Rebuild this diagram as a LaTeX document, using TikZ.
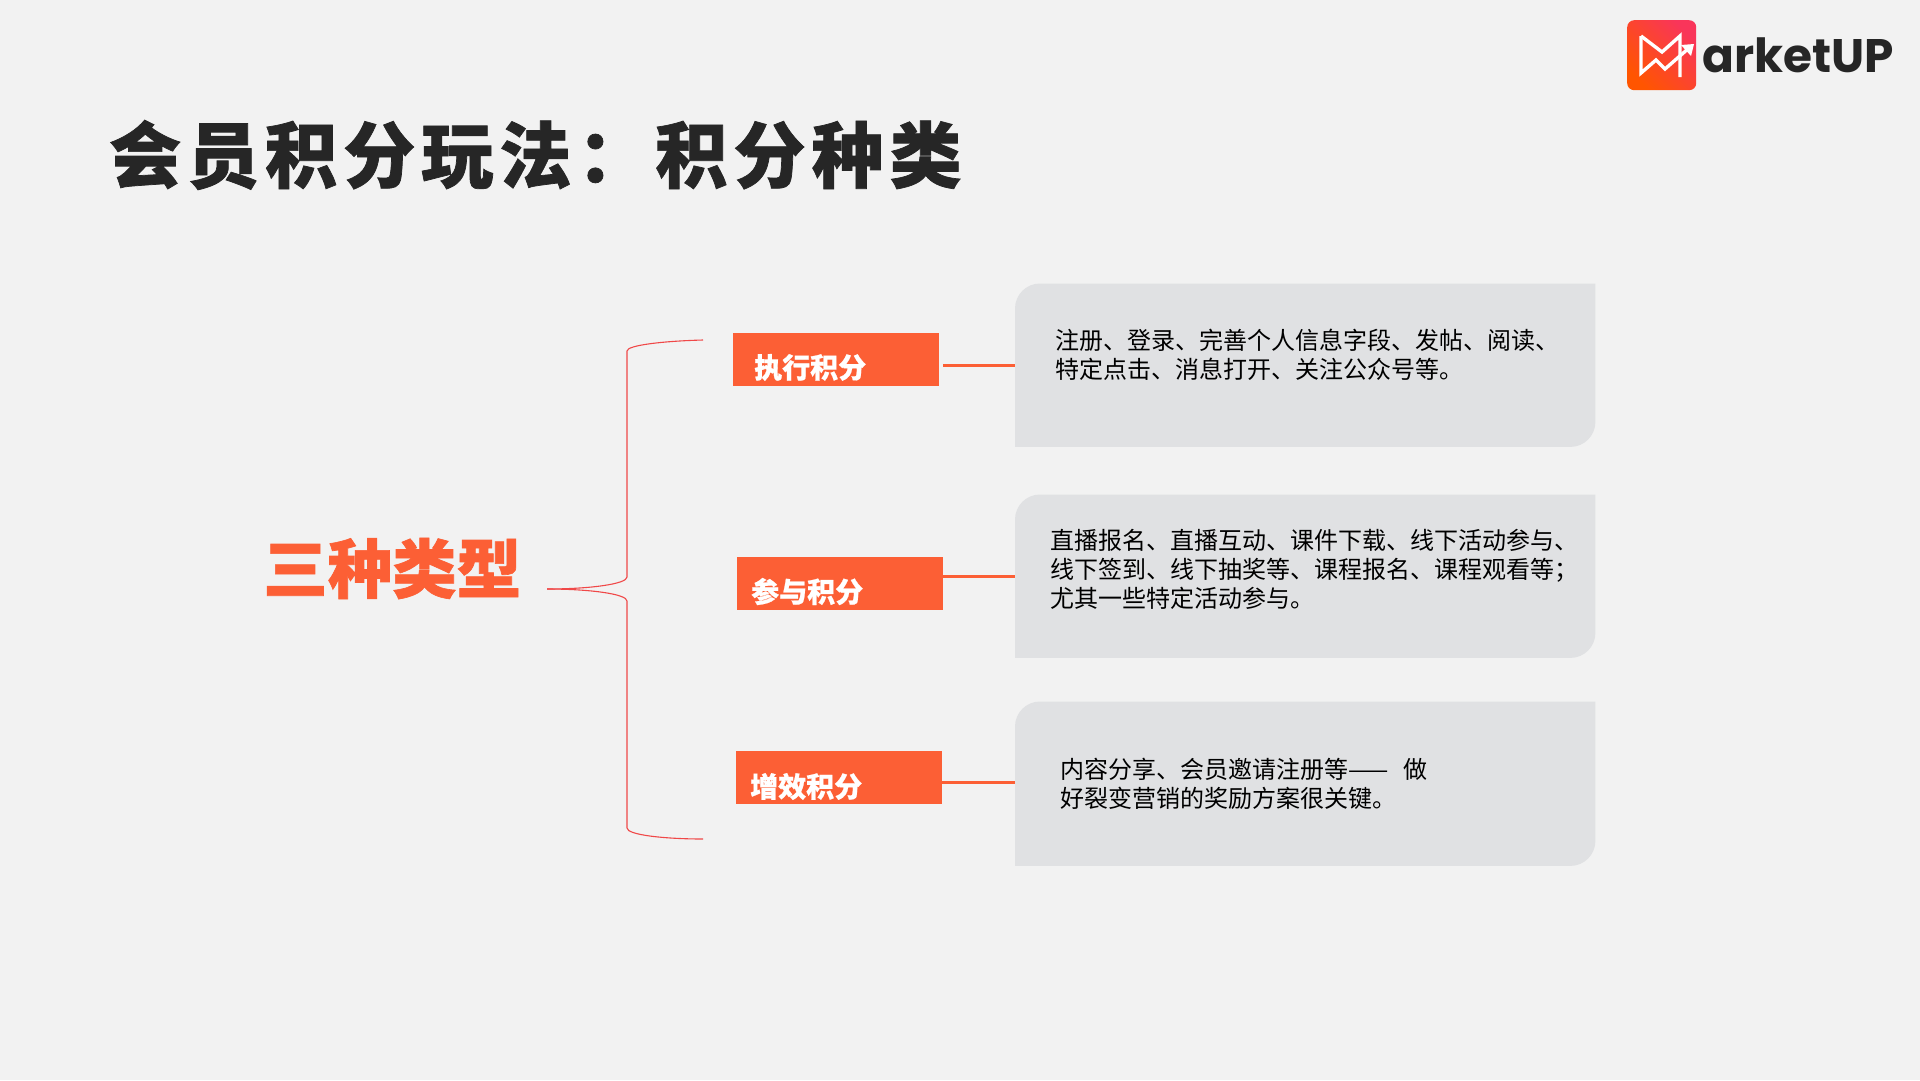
\documentclass[tikz,border=0pt]{standalone}
\usepackage{fontspec}
\setmainfont{Noto Sans CJK SC}
\newfontfamily\cjkfont{Noto Sans CJK SC}
\newfontfamily\latinbold{Poppins}[BoldFont={Poppins Bold}]
\definecolor{pagebg}{HTML}{F2F2F2}
\definecolor{accent}{HTML}{FC5F35}
\definecolor{panel}{HTML}{E0E1E3}
\definecolor{ink}{HTML}{262626}
\definecolor{bracecol}{HTML}{F04848}
\definecolor{logoA}{HTML}{F9355A}
\definecolor{logoB}{HTML}{FF5500}
\tikzset{
  x=1pt,y=-1pt,
  tag/.style={fill=accent,draw=none,inner sep=0pt,minimum width=206pt,minimum height=53pt,anchor=north west},
  taglabel/.style={text=white,inner sep=0pt,anchor=west,font=\fontsize{28}{28}\selectfont\bfseries\addfontfeature{FakeBold=0.6}},
  panelbox/.style={inner sep=0pt,minimum width=580pt,anchor=north west},
  panelfill/.style={fill=panel,draw=none},
  bodytext/.style={text=black,inner sep=0pt,anchor=west,align=left,font=\fontsize{24}{29}\selectfont},
  link/.style={draw=accent,line width=3pt},
  bracket/.style={draw=bracecol,line width=1.1pt},
}
\newcommand{\panelshape}[1]{%
  \fill[panelfill] (#1.north west) ++(0,25) arc[start angle=180,end angle=90,x radius=25,y radius=-25]
    -- (#1.north east) -- ++(0,0) -- ($(#1.south east)+(0,-25)$)
    arc[start angle=0,end angle=90,x radius=25,y radius=25]
    -- (#1.south west) -- cycle;}
\usetikzlibrary{calc}
\begin{document}
\begin{tikzpicture}
\useasboundingbox (0,0) rectangle (1920,1080);
\fill[pagebg] (0,0) rectangle (1920,1080);

% title
\node[anchor=west,inner sep=0pt,text=ink] (title) at (109,155)
  {\addfontfeature{LetterSpace=8.4,FakeBold=1}\fontsize{72}{72}\selectfont\bfseries 会员积分玩法：积分种类};

% logo
\node[rounded corners=7pt,minimum width=69pt,minimum height=70pt,inner sep=0pt,anchor=north west,
      shading=axis,left color=logoA,right color=logoB,shading angle=-45] (logo) at (1627,20) {};
\draw[white,line width=3.4pt,line join=miter] (1641,36) -- (1641,73) -- (1656,60) -- (1665,69) -- (1689,48);
\draw[white,line width=3.4pt] (1641,36) -- (1662,52) -- (1680,36) -- (1680,77);
\fill[white] (1694,44) -- (1681,45) -- (1691,56) -- cycle;
\node[anchor=west,inner sep=0pt,text=ink] (brand) at (1702,55)
  {\latinbold\bfseries\fontsize{47}{47}\selectfont arketUP};

% main label
\node[anchor=west,inner sep=0pt,text=accent] (main) at (263,568.5)
  {\addfontfeature{FakeBold=1}\fontsize{64.5}{64.5}\selectfont\bfseries 三种类型};

% brace
\coordinate (tip) at (547,589);
\coordinate (topend) at (703,340);
\coordinate (botend) at (703,839);
\coordinate (cornerA) at (627,351);
\coordinate (cornerB) at (627,577);
\coordinate (cornerC) at (627,601);
\coordinate (cornerD) at (627,828);
\draw[bracket] (topend) .. controls (665,341) and (627,345) .. (cornerA) -- (cornerB)
   .. controls (627,584) and (590,589) .. (tip);
\draw[bracket] (tip) .. controls (590,589) and (627,594) .. (cornerC) -- (cornerD)
   .. controls (627,835) and (665,839) .. (botend);

% tags
\node[tag] (tagA) at (733,333) {};
\node[tag] (tagB) at (737,557) {};
\node[tag] (tagC) at (736,751) {};
\node[taglabel] (tagAtext) at (754,367.5) {执行积分};
\node[taglabel] (tagBtext) at (751,591.5) {参与积分};
\node[taglabel] (tagCtext) at (750,786.5) {增效积分};

% panels
\node[panelbox,minimum height=163pt] (panA) at (1015,283.5) {};
\node[panelbox,minimum height=163pt] (panB) at (1015,494.5) {};
\node[panelbox,minimum height=164pt] (panC) at (1015,701.5) {};
\panelshape{panA}
\panelshape{panB}
\panelshape{panC}

\node[bodytext] (textA) at (1055,354.5) {注册、登录、完善个人信息字段、发帖、阅读、\\特定点击、消息打开、关注公众号等。};
\node[bodytext] (textB) at (1050,569) {直播报名、直播互动、课件下载、线下活动参与、\\线下签到、线下抽奖等、课程报名、课程观看等；\\尤其一些特定活动参与。};
\node[bodytext] (textC) at (1060,783.5) {内容分享、会员邀请注册等——\kern 10pt{} 做\\好裂变营销的奖励方案很关键。};

% connectors
\coordinate (startA) at (943,365);
\draw[link] (startA) -- (startA -| panA.west);
\draw[link] (943,576) -- (panB.west |- 0,576);
\draw[link] (942,782.5) -- (panC.west |- 0,782.5);
\end{tikzpicture}
\end{document}
